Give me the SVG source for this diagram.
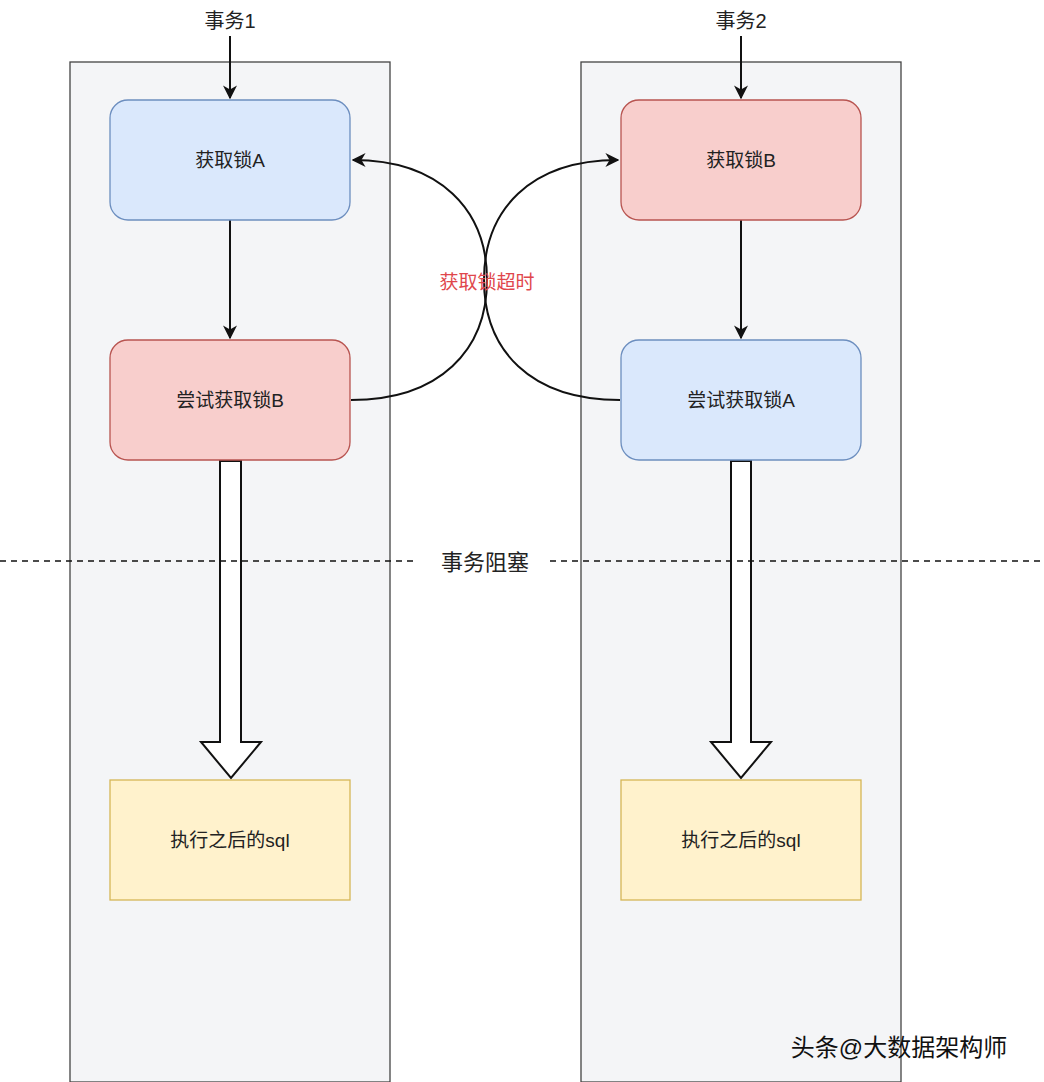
<svg xmlns="http://www.w3.org/2000/svg" width="1044" height="1082" viewBox="0 0 1044 1082">
<style>
text{font-family:"Liberation Sans","Noto Sans CJK SC",sans-serif;font-size:19px;fill:#222;text-anchor:middle}
.lane{fill:#f4f5f7;stroke:#444;stroke-width:1.3}
.blue{fill:#dae8fc;stroke:#6c8ebf;stroke-width:1.3}
.red{fill:#f8cecc;stroke:#b85450;stroke-width:1.3}
.yel{fill:#fff2cc;stroke:#d6b656;stroke-width:1.3}
.ln{fill:none;stroke:#111;stroke-width:2}
.hol{fill:#fff;stroke:#111;stroke-width:2}
</style>
<defs><marker id="ah" viewBox="0 0 10 10" refX="9" refY="5" markerWidth="7" markerHeight="7" orient="auto-start-reverse"><path d="M0,0 L10,5 L0,10 L3,5 z" fill="#111"/></marker></defs>
<rect width="1044" height="1082" fill="#fff"/>
<rect class="lane" x="70" y="62" width="320" height="1020"/>
<rect class="lane" x="581" y="62" width="320" height="1020"/>
<g id="connectors">
<path class="ln" d="M230,36 V98" marker-end="url(#ah)"/>
<path class="ln" d="M741,36 V98" marker-end="url(#ah)"/>
<path class="ln" d="M230,220 V338" marker-end="url(#ah)"/>
<path class="ln" d="M741,220 V338" marker-end="url(#ah)"/>
<path class="ln" d="M351,400 C440,400 487,350 487,280 C487,210 440,160 353,160" marker-end="url(#ah)"/>
<path class="ln" d="M620,400 C530,400 484,350 484,280 C484,210 530,160 618,160" marker-end="url(#ah)"/>
<path class="hol" d="M220,461 V742 H201 L231,778 L261,742 H241 V461 Z"/>
<path class="hol" d="M731,461 V742 H711 L741,778 L771,742 H751 V461 Z"/>
<line x1="0" y1="561" x2="1044" y2="561" stroke="#111" stroke-width="1.5" stroke-dasharray="6,5"/>
</g>
<rect x="418" y="548" width="128" height="28" fill="#fff"/>
<text x="485" y="570" style="font-size:22px">事务阻塞</text>
<text x="487" y="289" style="fill:#e0474c">获取锁超时</text>
<g id="t1"><text x="230" y="28" style="font-size:20px">事务1</text></g>
<g id="t2"><text x="741" y="28" style="font-size:20px">事务2</text></g>
<g id="a1"><rect class="blue" x="110" y="100" width="240" height="120" rx="18"/><text x="230" y="167">获取锁A</text></g>
<g id="b1"><rect class="red" x="110" y="340" width="240" height="120" rx="18"/><text x="230" y="407">尝试获取锁B</text></g>
<g id="s1"><rect class="yel" x="110" y="780" width="240" height="120"/><text x="230" y="847">执行之后的sql</text></g>
<g id="a2"><rect class="red" x="621" y="100" width="240" height="120" rx="18"/><text x="741" y="167">获取锁B</text></g>
<g id="b2"><rect class="blue" x="621" y="340" width="240" height="120" rx="18"/><text x="741" y="407">尝试获取锁A</text></g>
<g id="s2"><rect class="yel" x="621" y="780" width="240" height="120"/><text x="741" y="847">执行之后的sql</text></g>
<text x="899" y="1056" style="font-size:24px;fill:#111">头条@大数据架构师</text>
</svg>
